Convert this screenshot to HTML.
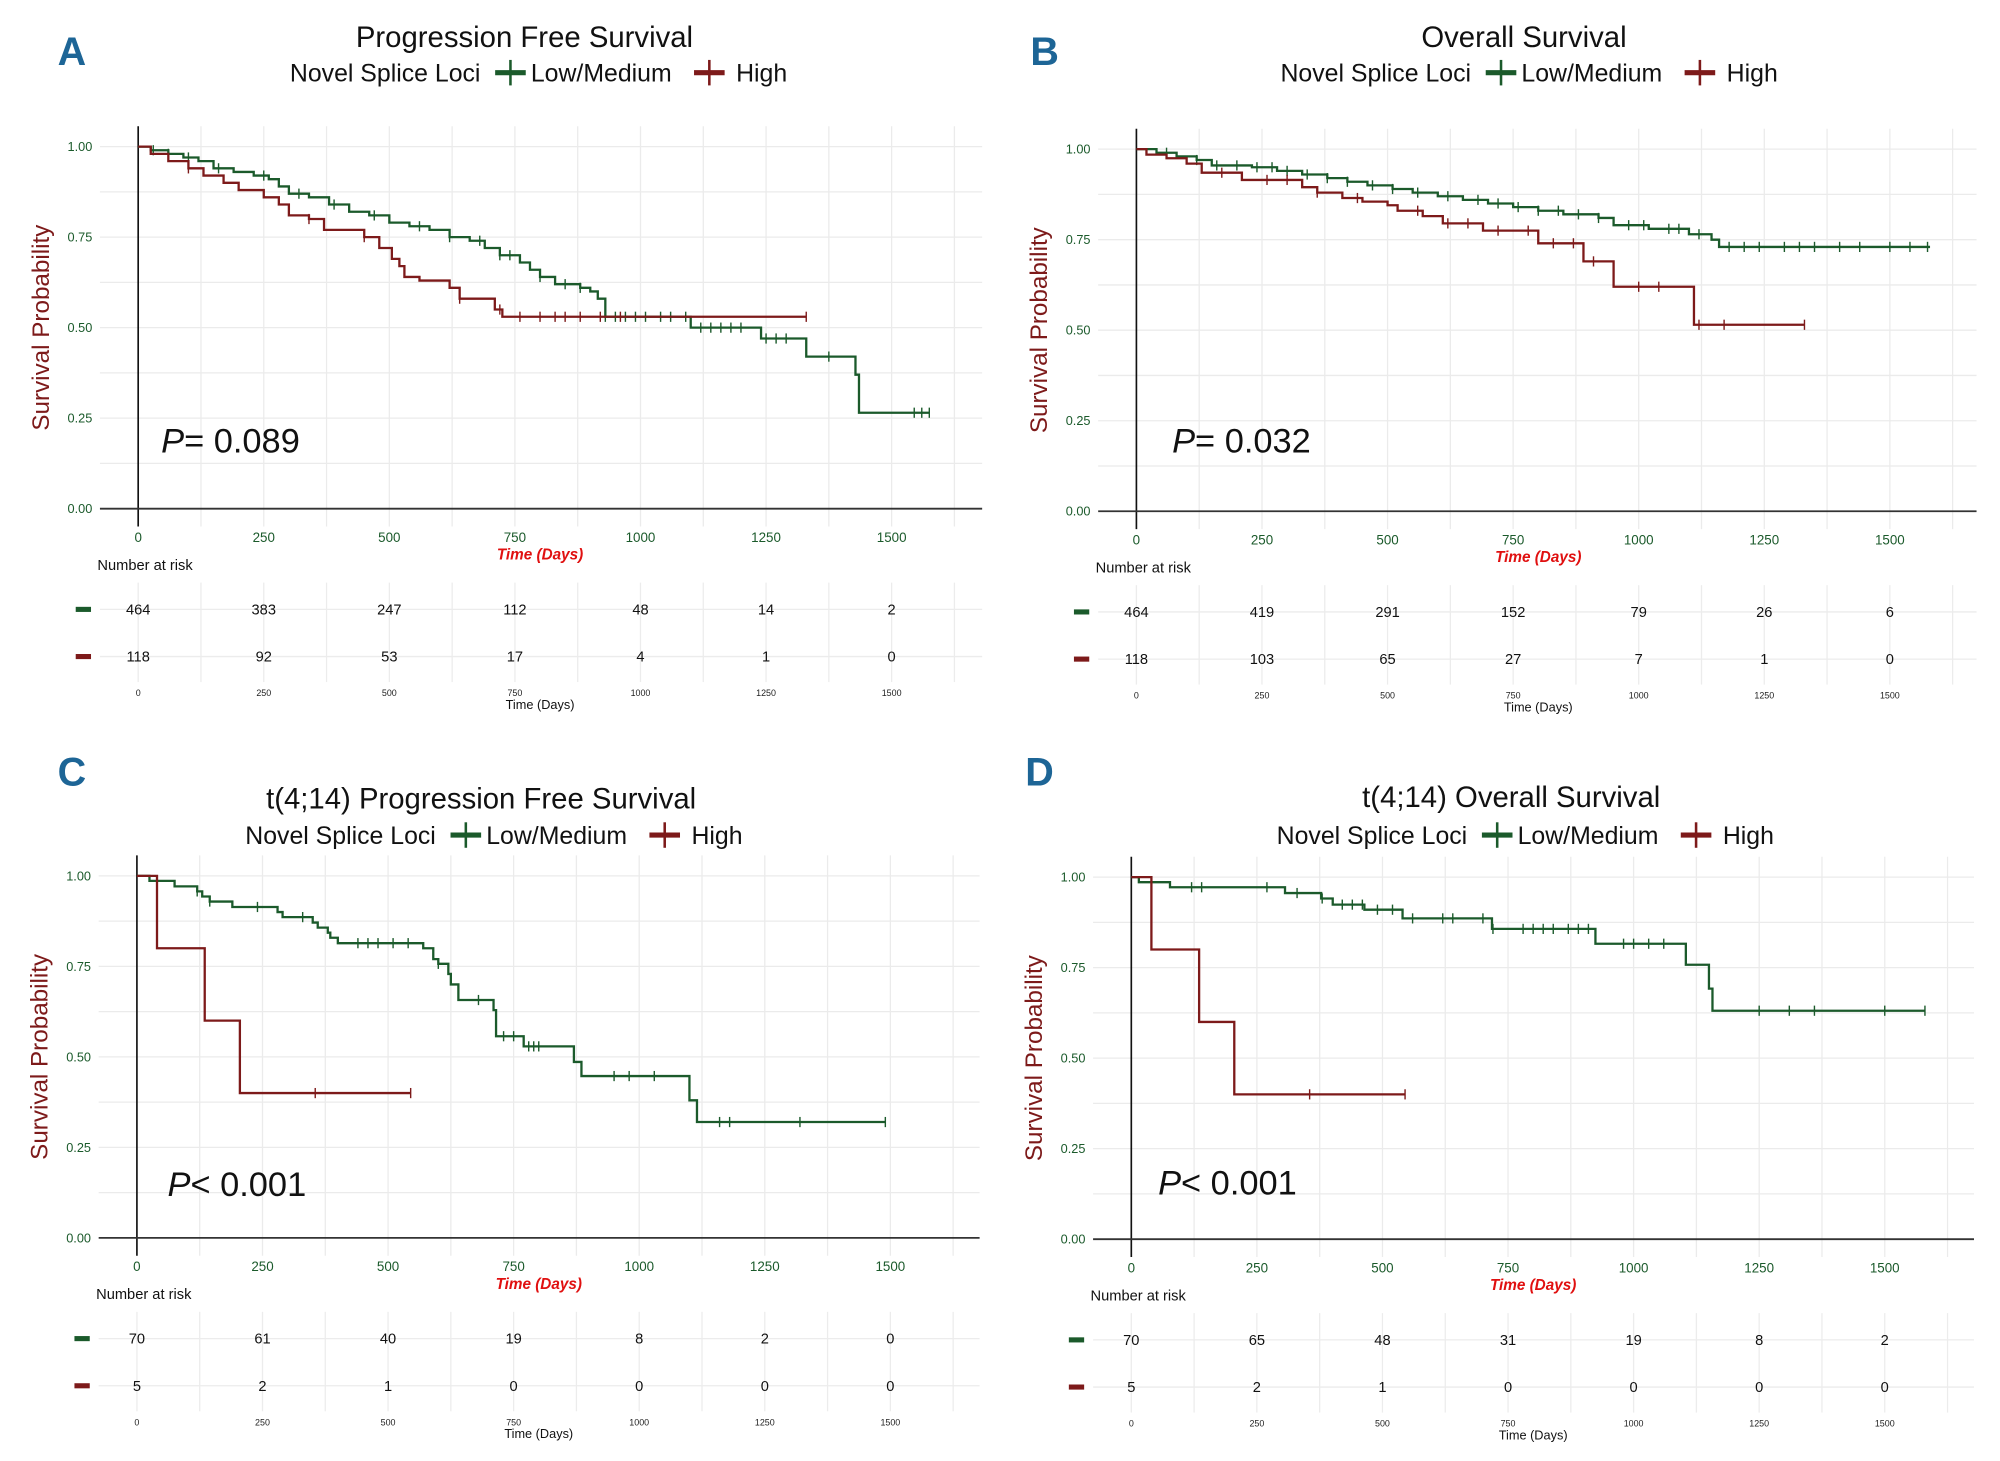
<!DOCTYPE html>
<html><head><meta charset="utf-8">
<style>
html,body{margin:0;padding:0;background:#fff;}
svg{display:block;}
text{font-family:"Liberation Sans Narrow","Liberation Sans",sans-serif;}
</style></head>
<body>
<svg id="fig" xmlns="http://www.w3.org/2000/svg" width="2000" height="1461" viewBox="0 0 1568 1146"></svg>
<script>
// ---- Data ----
const riskTimes = [0,250,500,750,1000,1250,1500];
const xTicks = [0,250,500,750,1000,1250,1500];
const yTicks = [0,0.25,0.5,0.75,1];
const yTickLabels = ["0.00","0.25","0.50","0.75","1.00"];

// Panel A: PFS
const aGreenT = [0,25,60,90,120,150,190,230,260,280,300,340,380,420,460,500,540,580,620,660,690,720,760,780,800,830,880,900,915,930,1100,1240,1330,1428,1435];
const aGreenS = [1,0.99,0.98,0.97,0.96,0.94,0.93,0.92,0.91,0.89,0.87,0.86,0.84,0.82,0.81,0.79,0.78,0.77,0.75,0.74,0.72,0.70,0.68,0.66,0.64,0.62,0.61,0.60,0.58,0.53,0.50,0.47,0.42,0.37,0.265];
const aGreenEnd = 1575;
const aGreenCens = [30,60,100,160,250,320,390,470,560,620,680,720,740,800,850,880,930,950,970,990,1010,1040,1060,1090,1120,1140,1160,1180,1200,1250,1270,1290,1375,1545,1560,1575];
const aRedT = [0,25,60,100,130,170,200,250,280,300,340,370,450,480,505,520,530,560,620,640,710,725];
const aRedS = [1,0.98,0.96,0.94,0.92,0.90,0.88,0.86,0.84,0.81,0.80,0.77,0.75,0.72,0.69,0.67,0.64,0.63,0.61,0.58,0.55,0.53];
const aRedEnd = 1330;
const aRedCens = [100,340,450,640,720,760,800,830,850,880,920,960,1330];
const aRiskGreen = [464,383,247,112,48,14,2];
const aRiskRed = [118,92,53,17,4,1,0];

// Panel B: OS
const bGreenT = [0,40,80,120,150,230,280,330,380,420,460,510,550,600,650,700,750,800,850,920,950,1020,1100,1145,1160];
const bGreenS = [1,0.99,0.98,0.97,0.955,0.95,0.94,0.93,0.92,0.91,0.90,0.89,0.88,0.87,0.86,0.85,0.84,0.83,0.82,0.81,0.79,0.78,0.765,0.75,0.73];
const bGreenEnd = 1580;
const bGreenCens = [60,120,160,200,240,270,300,340,380,420,470,510,560,620,680,720,760,800,840,880,920,980,1010,1060,1080,1120,1180,1210,1240,1290,1320,1350,1400,1440,1500,1540,1575];
const bRedT = [0,20,60,100,130,210,330,360,410,450,500,520,570,610,690,800,890,950,1110];
const bRedS = [1,0.985,0.975,0.96,0.935,0.915,0.895,0.88,0.865,0.855,0.845,0.83,0.815,0.795,0.775,0.74,0.69,0.62,0.515];
const bRedEnd = 1330;
const bRedCens = [170,260,300,360,440,560,620,660,720,780,830,870,910,1000,1040,1120,1170,1330];
const bRiskGreen = [464,419,291,152,79,26,6];
const bRiskRed = [118,103,65,27,7,1,0];

// Panel C: t(4;14) PFS
const cGreenT = [0,25,75,120,130,145,190,280,290,350,360,380,385,400,570,590,600,620,625,640,710,715,770,870,885,1100,1115];
const cGreenS = [1,0.986,0.971,0.957,0.943,0.929,0.914,0.90,0.886,0.871,0.857,0.843,0.829,0.814,0.80,0.77,0.757,0.729,0.70,0.657,0.629,0.557,0.529,0.486,0.447,0.38,0.32];
const cGreenEnd = 1490;
const cGreenCens = [120,145,240,330,440,460,480,510,540,600,680,730,750,780,790,800,950,980,1030,1160,1180,1320,1490];
const cRedT = [0,40,135,205];
const cRedS = [1,0.8,0.6,0.4];
const cRedEnd = 545;
const cRedCens = [355,545];
const cRiskGreen = [70,61,40,19,8,2,0];
const cRiskRed = [5,2,1,0,0,0,0];

// Panel D: t(4;14) OS
const dGreenT = [0,15,77,306,378,401,464,540,718,924,1104,1150,1157];
const dGreenS = [1,0.986,0.972,0.956,0.941,0.924,0.91,0.886,0.857,0.816,0.758,0.692,0.631];
const dGreenEnd = 1580;
const dGreenCens = [120,140,270,330,380,420,440,460,490,520,560,620,640,700,720,780,800,820,840,870,890,910,980,1000,1030,1060,1250,1310,1360,1500,1580];
const dRedT = [0,40,135,205];
const dRedS = [1,0.8,0.6,0.4];
const dRedEnd = 545;
const dRedCens = [355,545];
const dRiskGreen = [70,65,48,31,19,8,2];
const dRiskRed = [5,2,1,0,0,0,0];

// ---- Drawing ----
const NS = "http://www.w3.org/2000/svg";
const svg = document.getElementById('fig');
const GREEN = "#1b5a2b", RED = "#7d1a1a", BLUE = "#1d6596";
function mk(tag, attrs, parent){
  const e = document.createElementNS(NS, tag);
  for (const k in attrs) e.setAttribute(k, attrs[k]);
  (parent||svg).appendChild(e);
  return e;
}
function txt(s, attrs, parent){ const e = mk('text', attrs, parent); e.textContent = s; return e; }

function panel(p){
  const g = mk('g', {});
  
  
  const pxd = 591/1500;
  const X = t => p.x0 + t*pxd;
  const Y = s => p.y0 - s*(p.y0 - p.y1);
  const left = p.x0 - 30, right = p.right, top = p.y1 - 16;

  const grid = mk('g', {}, g);
  
  
  for (let t = 0; t <= 1625; t += 125){
    const l = mk('line', {x1:X(t), x2:X(t), y1:top, y2:p.y0+14, stroke:"#ebebeb", "stroke-width":1}, grid);
    
    
  }
  for (let s = 0.125; s <= 1.01; s += 0.125){
    const l = mk('line', {x1:left, x2:right, y1:Y(s), y2:Y(s), stroke:"#ebebeb", "stroke-width":1}, grid);
    
    
  }
  const ya = mk('line', {x1:p.x0, x2:p.x0, y1:top, y2:p.y0+14, stroke:"#111", "stroke-width":1.3}, g);
  
  
  const xa = mk('line', {x1:left, x2:right, y1:p.y0, y2:p.y0, stroke:"#333", "stroke-width":1.4}, g);
  
  

  yTicks.forEach((v,i) => {
    const t = txt(yTickLabels[i], {x:left-6, y:Y(v)+3.5, "font-size":10, fill:GREEN, "text-anchor":"end"}, g);
    
    
  });
  xTicks.forEach(v => {
    const t = txt(String(v), {x:X(v), y:p.y0+26, "font-size":10.5, fill:GREEN, "text-anchor":"middle"}, g);
    
    
  });
  const xt = txt("Time (Days)", {x:X(800), y:p.y0+40, "font-size":12, fill:"#e01010", "font-style":"italic", "font-weight":"bold", "text-anchor":"middle"}, g);
  
  

  const yt = txt("Survival Probability", {x:0, y:0, "font-size":19, fill:RED, "text-anchor":"middle", "font-family":"Liberation Sans, sans-serif", transform:`translate(${p.x0-70},${(p.y1+p.y0)/2})`+" rotate(-90)"}, g);
  
  

  function curve(T, S, end, cens, col, name){
    let d = `M${X(T[0])},${Y(S[0])}`;
    for (let i = 1; i < T.length; i++){ d += ` H${X(T[i])} V${Y(S[i])}`; }
    d += ` H${X(end)}`;
    const path = mk('path', {d:d, fill:"none", stroke:col, "stroke-width":1.8}, g);
    
    
    cens.forEach(c => {
      let s = S[0];
      for (let i = 0; i < T.length; i++) if (T[i] <= c) s = S[i];
      const m = mk('line', {x1:X(c), x2:X(c), y1:Y(s)-4, y2:Y(s)+4, stroke:col, "stroke-width":1.1}, g);
      
      
    });
  }
  curve(p.gT, p.gS, p.gEnd, p.gC, GREEN, 'low-medium');
  curve(p.rT, p.rS, p.rEnd, p.rC, RED, 'high');

  const pv = txt("", {x:p.px, y:p.py, "font-size":27, fill:"#111", "font-family":"DejaVu Sans, sans-serif"}, g);
  
  
  const pi = mk('tspan', {"font-style":"italic"}, pv); pi.textContent = "P";
  const pr = mk('tspan', {}, pv); pr.textContent = p.ptext;

  const ti = txt(p.title, {x:p.tx, y:p.ty, "font-size":23, fill:"#111", "text-anchor":"middle"}, g);
  
  
  const lg = mk('g', {}, g);
  
  
  const lx = p.lx, ly = p.ly;
  const lt = txt("Novel Splice Loci", {x:lx, y:ly+7, "font-size":19.5, fill:"#111"}, lg);
  
  
  [[161, GREEN, "Low/Medium", 189], [317, RED, "High", 350]].forEach(([ox, col, lab, tx]) => {
    const e = mk('g', {}, lg);
    
    
    mk('line', {x1:lx+ox, x2:lx+ox+24, y1:ly, y2:ly, stroke:col, "stroke-width":4}, e);
    mk('line', {x1:lx+ox+12, x2:lx+ox+12, y1:ly-10, y2:ly+10, stroke:col, "stroke-width":2}, e);
    txt(lab, {x:lx+tx, y:ly+7, "font-size":19.5, fill:"#111"}, e);
  });

  const L = txt(p.id.toUpperCase(), {x:p.Lx, y:p.Ly, "font-size":31, fill:BLUE, "font-weight":"bold", "text-anchor":"middle"}, g);
  
  

  const rt = mk('g', {}, g);
  
  
  const r1 = p.y0 + 79, r2 = p.y0 + 116;
  for (let t = 0; t <= 1625; t += 125)
    mk('line', {x1:X(t), x2:X(t), y1:p.y0+58, y2:p.y0+136, stroke:"#ececec", "stroke-width":1}, rt);
  [r1, r2].forEach(r => mk('line', {x1:left, x2:right, y1:r, y2:r, stroke:"#ececec", "stroke-width":1}, rt));
  const nar = txt("Number at risk", {x:p.x0-32, y:p.y0+48, "font-size":11.5, fill:"#111"}, rt);
  
  
  mk('rect', {x:p.x0-49, y:r1-2, width:12, height:4, fill:GREEN}, rt);
  mk('rect', {x:p.x0-49, y:r2-2, width:12, height:4, fill:RED}, rt);
  riskTimes.forEach((t,i) => {
    const a = txt(String(p.rg[i]), {x:X(t), y:r1+4, "font-size":11.5, fill:"#111", "text-anchor":"middle"}, rt);
    
    
    const b = txt(String(p.rr[i]), {x:X(t), y:r2+4, "font-size":11.5, fill:"#111", "text-anchor":"middle"}, rt);
    
    
    const c = txt(String(t), {x:X(t), y:p.y0+147, "font-size":7, fill:"#222", "text-anchor":"middle"}, rt);
    
    
  });
  const rtt = txt("Time (Days)", {x:X(800), y:p.y0+157, "font-size":10, fill:"#111", "text-anchor":"middle"}, rt);
  
  
}

panel({id:'a', x0:108, y1:115, y0:399, right:770, title:"Progression Free Survival", tx:411, ty:37, lx:227, ly:57, Lx:56, Ly:51, px:126, py:355, ptext:"= 0.089",
  gT:aGreenT, gS:aGreenS, gEnd:aGreenEnd, gC:aGreenCens, rT:aRedT, rS:aRedS, rEnd:aRedEnd, rC:aRedCens, rg:aRiskGreen, rr:aRiskRed});
panel({id:'b', x0:891, y1:117, y0:401, right:1550, title:"Overall Survival", tx:1195, ty:37, lx:1004, ly:57, Lx:819, Ly:51, px:919, py:355, ptext:"= 0.032",
  gT:bGreenT, gS:bGreenS, gEnd:bGreenEnd, gC:bGreenCens, rT:bRedT, rS:bRedS, rEnd:bRedEnd, rC:bRedCens, rg:bRiskGreen, rr:bRiskRed});
panel({id:'c', x0:107, y1:687, y0:971, right:768, title:"t(4;14) Progression Free Survival", tx:377, ty:634, lx:192, ly:655, Lx:56, Ly:616, px:131, py:938, ptext:"< 0.001",
  gT:cGreenT, gS:cGreenS, gEnd:cGreenEnd, gC:cGreenCens, rT:cRedT, rS:cRedS, rEnd:cRedEnd, rC:cRedCens, rg:cRiskGreen, rr:cRiskRed});
panel({id:'d', x0:887, y1:688, y0:972, right:1548, title:"t(4;14) Overall Survival", tx:1185, ty:633, lx:1001, ly:655, Lx:815, Ly:616, px:908, py:937, ptext:"< 0.001",
  gT:dGreenT, gS:dGreenS, gEnd:dGreenEnd, gC:dGreenCens, rT:dRedT, rS:dRedS, rEnd:dRedEnd, rC:dRedCens, rg:dRiskGreen, rr:dRiskRed});
</script>
</body></html>
